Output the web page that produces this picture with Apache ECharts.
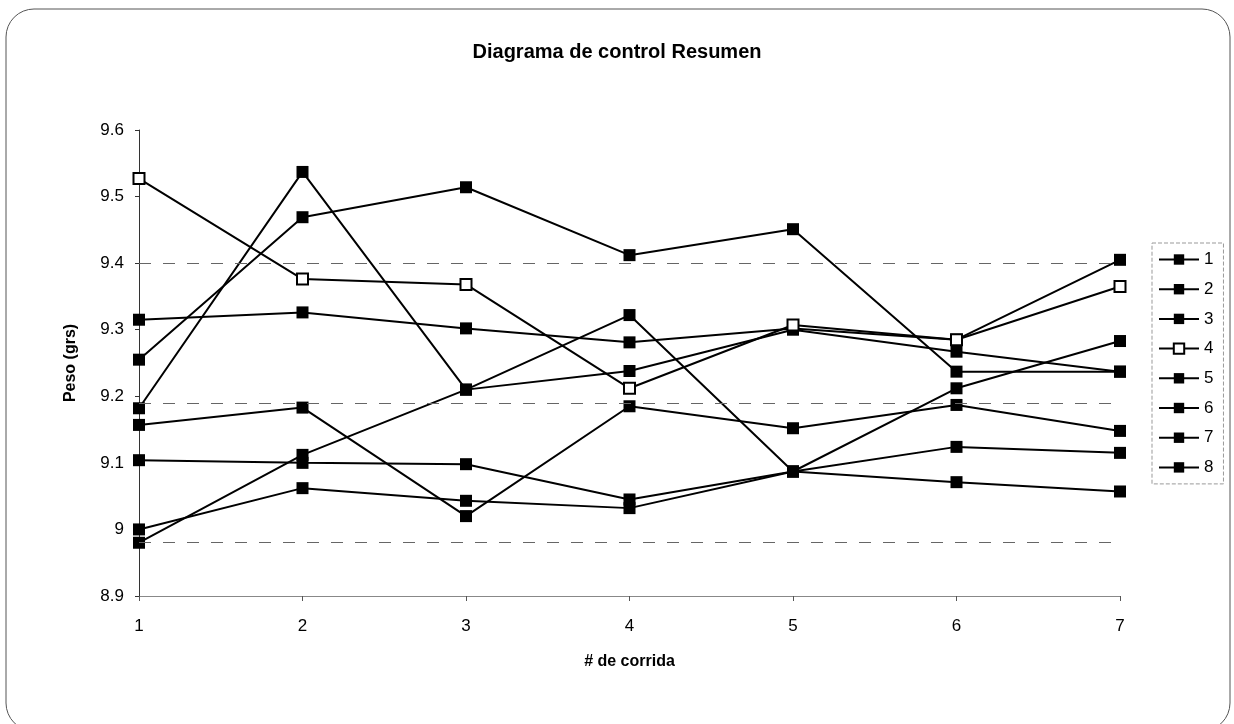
<!DOCTYPE html>
<html>
<head>
<meta charset="utf-8">
<script src="https://cdn.jsdelivr.net/npm/echarts@6/dist/echarts.min.js"></script>
<style>html,body{margin:0;padding:0;background:#fff;}#c{width:1234px;height:724px;}</style>
</head>
<body>
<div id="c"></div>
<script>
const categories = ['1','2','3','4','5','6','7'];
const seriesNames = ['1','2','3','4','5','6','7','8'];
const s1 = [9.255, 9.469, 9.514, 9.412, 9.451, 9.237, 9.237];
const s2 = [9.315, 9.326, 9.302, 9.281, 9.302, 9.285, 9.405];
const s3 = [9.182, 9.537, 9.210, 9.238, 9.300, 9.267, 9.237];
const s4 = [9.527, 9.376, 9.368, 9.212, 9.307, 9.285, 9.365];
const s5 = [9.157, 9.183, 9.020, 9.185, 9.152, 9.187, 9.148];
const s6 = [9.104, 9.100, 9.098, 9.045, 9.087, 9.124, 9.115];
const s7 = [9.000, 9.062, 9.043, 9.032, 9.087, 9.071, 9.057];
const s8 = [8.980, 9.112, 9.210, 9.322, 9.087, 9.212, 9.283];
const refLines = [9.4, 9.187, 8.984];
const yTicks = [8.9, 9.0, 9.1, 9.2, 9.3, 9.4, 9.5, 9.6];

const allData = [s1, s2, s3, s4, s5, s6, s7, s8];
const font = 'Liberation Sans, Arial, sans-serif';

const series = allData.map((d, i) => {
  const hollow = i === 3;
  const s = {
    name: seriesNames[i],
    type: 'line',
    data: d,
    symbol: 'rect',
    symbolSize: hollow ? 11 : 12,
    lineStyle: { color: '#000', width: 2 },
    itemStyle: hollow ? { color: '#fff', borderColor: '#000', borderWidth: 2 }
                      : { color: '#000', borderColor: '#000', borderWidth: 0 },
    emphasis: { disabled: true },
    animation: false,
    z: hollow ? 3 : 2
  };
  if (i === 0) {
    s.markLine = {
      silent: true,
      symbol: 'none',
      label: { show: false },
      lineStyle: { color: '#666', type: [12, 12], width: 1 },
      data: refLines.map(v => ({ yAxis: v }))
    };
  }
  return s;
});

const chart = echarts.init(document.getElementById('c'), null, { renderer: 'canvas' });
chart.setOption({
  backgroundColor: '#fff',
  animation: false,
  title: {
    text: 'Diagrama de control Resumen',
    left: 'center',
    top: 37,
    textStyle: { fontFamily: font, fontSize: 20, fontWeight: 'bold', color: '#000' }
  },
  graphic: [{
    type: 'rect',
    shape: { x: 6, y: 9, width: 1224, height: 722, r: 28 },
    style: { fill: 'none', stroke: '#555', lineWidth: 1 },
    silent: true,
    z: -1
  }],
  legend: {
    orient: 'vertical',
    left: 1152,
    top: 243,
    itemWidth: 40,
    itemHeight: 13,
    itemGap: 12.7,
    padding: [8, 10, 8, 6],
    borderColor: '#999',
    borderWidth: 1,
    borderType: 'dashed',
    data: seriesNames,
    textStyle: { fontFamily: font, fontSize: 17, color: '#000' }
  },
  grid: { left: 139, right: 114, top: 130, bottom: 128, containLabel: false },
  xAxis: {
    type: 'category',
    data: categories,
    boundaryGap: false,
    name: '# de corrida',
    nameLocation: 'middle',
    nameGap: 58,
    nameTextStyle: { fontFamily: font, fontSize: 16, fontWeight: 'bold', color: '#000' },
    axisLine: { lineStyle: { color: '#888', width: 1 } },
    axisTick: { show: true, alignWithLabel: true, length: 5, lineStyle: { color: '#555' } },
    axisLabel: { fontFamily: font, fontSize: 17, color: '#000', margin: 22 },
    splitLine: { show: false }
  },
  yAxis: {
    type: 'value',
    min: 8.9,
    max: 9.6,
    interval: 0.1,
    name: 'Peso (grs)',
    nameLocation: 'middle',
    nameGap: 60,
    nameTextStyle: { fontFamily: font, fontSize: 16, fontWeight: 'bold', color: '#000' },
    axisLine: { show: true, lineStyle: { color: '#333', width: 1 } },
    axisTick: { show: true, length: 4, lineStyle: { color: '#333' } },
    axisLabel: {
      fontFamily: font, fontSize: 17, color: '#000', margin: 15,
      formatter: v => {
        const r = Math.round(v * 10) / 10;
        return yTicks.includes(r) ? String(r) : '';
      }
    },
    splitLine: { show: false }
  },
  series: series
});
</script>
</body>
</html>
